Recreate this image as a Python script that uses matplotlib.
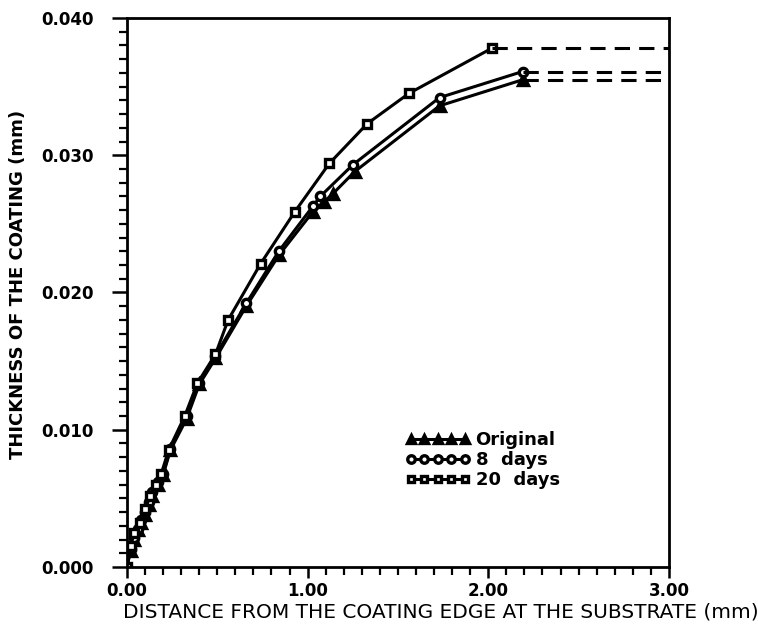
import matplotlib.pyplot as plt
from matplotlib.ticker import MultipleLocator, FormatStrFormatter

# distance from coating edge (mm) and coating thickness (mm)
x_orig = [0.0, 0.02, 0.04, 0.06, 0.08, 0.10, 0.12, 0.14, 0.17, 0.20, 0.24, 0.33,
          0.40, 0.49, 0.66, 0.84, 1.03, 1.09, 1.14, 1.26, 1.73, 2.19]
y_orig = [0.0, 0.0012, 0.0020, 0.0027, 0.0032, 0.0038, 0.0045, 0.0052, 0.0060, 0.0067,
          0.0085, 0.0108, 0.0133, 0.0152, 0.0190, 0.0227, 0.0259, 0.0266, 0.0272,
          0.0288, 0.0336, 0.0355]

x_8d = [0.0, 0.02, 0.04, 0.06, 0.08, 0.10, 0.12, 0.14, 0.17, 0.20, 0.24, 0.33,
        0.40, 0.49, 0.66, 0.84, 1.03, 1.07, 1.25, 1.73, 2.19]
y_8d = [0.0, 0.0013, 0.0021, 0.0028, 0.0034, 0.0040, 0.0047, 0.0055, 0.0062, 0.0068,
        0.0086, 0.0110, 0.0134, 0.0154, 0.0192, 0.0230, 0.0263, 0.0270, 0.0293,
        0.0342, 0.0361]

x_20d = [0.0, 0.02, 0.04, 0.07, 0.10, 0.13, 0.16, 0.19, 0.23, 0.32, 0.39, 0.49,
         0.56, 0.74, 0.93, 1.12, 1.33, 1.56, 2.02]
y_20d = [0.0, 0.0015, 0.0025, 0.0032, 0.0042, 0.0052, 0.0060, 0.0068, 0.0085, 0.0110,
         0.0134, 0.0155, 0.0180, 0.0221, 0.0259, 0.0294, 0.0323, 0.0345, 0.0378]

labels = ["Original", "8  days", "20  days"]
x_end = 3.0

fig = plt.figure(figsize=(7.58, 6.36), dpi=100)
ax = fig.add_axes([0.1675, 0.1085, 0.715, 0.8632])

series = [(x_orig, y_orig, '^', 'black', 6.5), (x_8d, y_8d, 'o', 'white', 6), (x_20d, y_20d, 's', 'white', 5.5)]
for (xs, ys, m, fc, ms), lab in zip(series, labels):
    ax.plot(xs, ys, color='black', lw=2.2, marker=m, ms=ms, mfc=fc, mec='black', mew=2.4, label=lab)
    ax.plot([xs[-1], x_end], [ys[-1], ys[-1]], color='black', lw=2.2, ls=(0, (5, 3)))

ax.set_xlim(0, 3.0)
ax.set_ylim(0, 0.040)
ax.xaxis.set_major_locator(MultipleLocator(1.0))
ax.xaxis.set_minor_locator(MultipleLocator(0.1))
ax.yaxis.set_major_locator(MultipleLocator(0.010))
ax.yaxis.set_minor_locator(MultipleLocator(0.001))
ax.xaxis.set_major_formatter(FormatStrFormatter('%.2f'))
ax.yaxis.set_major_formatter(FormatStrFormatter('%.3f'))
ax.tick_params(axis='y', which='major', direction='out', length=11, width=1.8, labelsize=12, pad=13)
ax.tick_params(axis='y', which='minor', direction='out', length=6, width=1.6)
ax.tick_params(axis='x', which='major', direction='out', length=8, width=1.8, labelsize=12, pad=3)
ax.tick_params(axis='x', which='minor', direction='out', length=6, width=1.6)
for t in ax.get_xticklabels() + ax.get_yticklabels():
    t.set_fontweight('bold')
for s in ax.spines.values():
    s.set_linewidth(2)

ax.set_xlabel("DISTANCE FROM THE COATING EDGE AT THE SUBSTRATE (mm)", fontsize=14.5)
ax.xaxis.set_label_coords(0.58, -0.065)
ax.set_ylabel("THICKNESS OF THE COATING (mm)", fontsize=13, fontweight='bold')
ax.yaxis.set_label_coords(-0.185, 0.514)

leg = ax.legend(loc='upper left', bbox_to_anchor=(0.5, 0.26), frameon=False, numpoints=5,
                handlelength=3.6, handletextpad=0.3, labelspacing=0.1, fontsize=13,
                borderaxespad=0, markerscale=0.9)
for t in leg.get_texts():
    t.set_fontweight('bold')

fig.savefig("out.png", dpi=100)
